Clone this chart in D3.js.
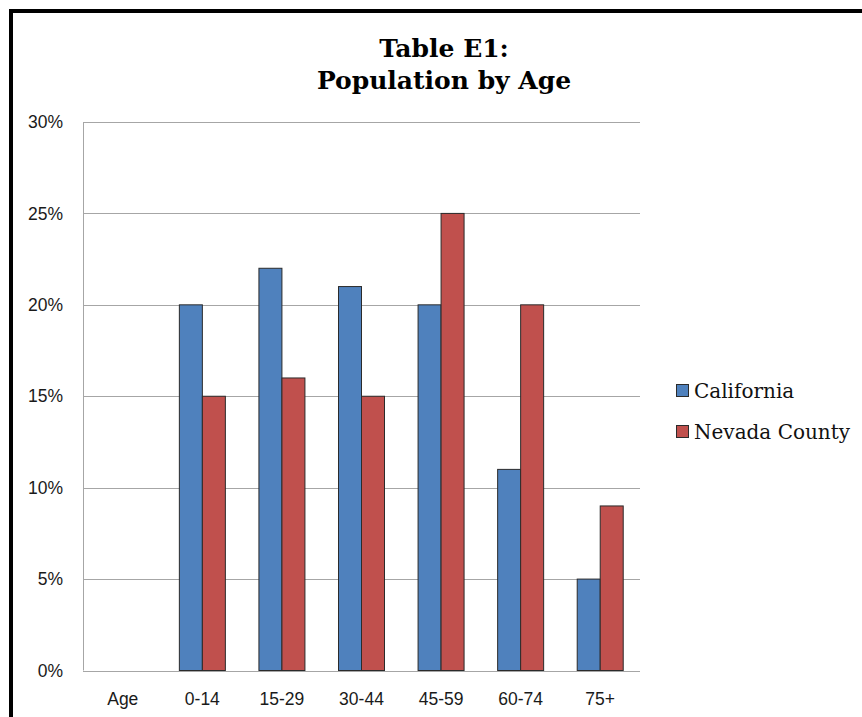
<!DOCTYPE html>
<html><head><meta charset="utf-8">
<script src="https://cdn.jsdelivr.net/npm/d3@7"></script>
<style>body{margin:0;background:#fff}svg{display:block}</style>
</head><body>
<svg id="c" width="862" height="717"></svg>
<script>
const categories = ["Age","0-14","15-29","30-44","45-59","60-74","75+"];
const seriesNames = ["California","Nevada County"];
const california = [null,20,22,21,20,11,5];
const nevadaCounty = [null,15,16,15,25,20,9];
const yTicks = [0,5,10,15,20,25,30];
const colors = ["#4f81bd","#c0504d"];

const svg = d3.select("#c");
// frame
svg.append("rect").attr("x",11).attr("y",11).attr("width",900).attr("height",800)
  .attr("fill","none").attr("stroke","#000").attr("stroke-width",4);

const x0 = 83, x1 = 640, yTop = 122, yBot = 670.5;
const x = d3.scaleBand().domain(categories).range([x0,x1]).paddingInner(0).paddingOuter(0);
const y = d3.scaleLinear().domain([0,30]).range([yBot,yTop]);
const bw = 23;

// grid
svg.append("g").selectAll("line").data(yTicks).join("line")
  .attr("x1",x0).attr("x2",x1).attr("y1",d=>Math.round(y(d))+0.5).attr("y2",d=>Math.round(y(d))+0.5)
  .attr("stroke","#a6a6a6").attr("stroke-width",1);
svg.append("line").attr("x1",x0+0.5).attr("x2",x0+0.5).attr("y1",yTop).attr("y2",yBot)
  .attr("stroke","#a6a6a6");

// y labels
svg.append("g").selectAll("text").data(yTicks).join("text")
  .attr("x",63).attr("y",d=>y(d)).attr("dy","0.35em").attr("text-anchor","end")
  .attr("font-family","Liberation Sans, Arial, sans-serif").attr("font-size",17.5).attr("fill","#1a1a1a")
  .text(d=>d+"%");

// x labels
svg.append("g").selectAll("text").data(categories).join("text")
  .attr("x",d=>x(d)+x.bandwidth()/2).attr("y",705).attr("text-anchor","middle")
  .attr("font-family","Liberation Sans, Arial, sans-serif").attr("font-size",17.5).attr("fill","#1a1a1a")
  .text(d=>d);

// bars
const series = [california, nevadaCounty];
series.forEach((vals,si)=>{
  svg.append("g").selectAll("rect").data(categories.map((c,i)=>({c,v:vals[i]})).filter(d=>d.v!=null))
    .join("rect")
    .attr("x",d=>x(d.c)+x.bandwidth()/2 - bw + si*bw)
    .attr("y",d=>y(d.v)).attr("width",bw).attr("height",d=>yBot-y(d.v))
    .attr("fill",colors[si]).attr("stroke","#2b2b2b").attr("stroke-width",1);
});

// title
const t = svg.append("text").attr("text-anchor","middle")
  .attr("font-family","DejaVu Serif, serif").attr("font-weight","bold").attr("font-size",25).attr("fill","#000");
t.append("tspan").attr("x",444).attr("y",57).text("Table E1:");
t.append("tspan").attr("x",444).attr("y",89).text("Population by Age");

// legend
const lg = svg.append("g");
seriesNames.forEach((n,i)=>{
  const cy = 391 + i*41;
  lg.append("rect").attr("x",676.5).attr("y",cy-6.5).attr("width",12).attr("height",12)
    .attr("fill",colors[i]).attr("stroke","#2b2b2b").attr("stroke-width",1);
  lg.append("text").attr("x",694).attr("y",cy).attr("dy","0.35em")
    .attr("font-family","DejaVu Serif, serif").attr("font-size",20).attr("fill","#111").text(n);
});
</script>
</body></html>
